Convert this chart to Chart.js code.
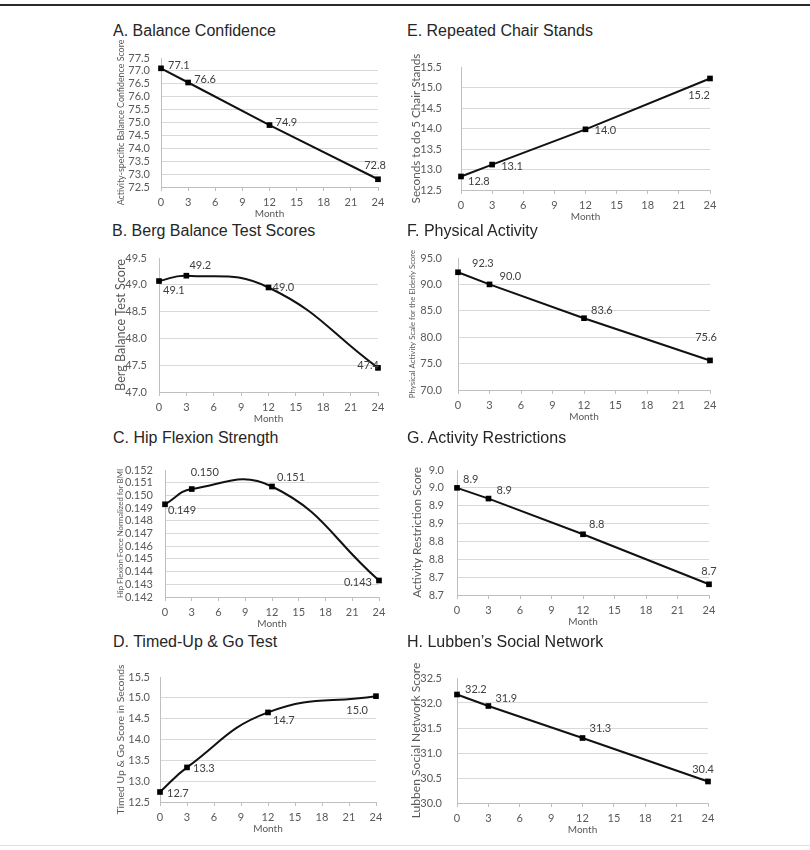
<!DOCTYPE html>
<html>
<head>
<meta charset="utf-8">
<script src="https://cdn.jsdelivr.net/npm/chart.js@4.4.1/dist/chart.umd.min.js"></script>
<style>
  body { margin: 0; background: #fff; width: 810px; height: 850px; position: relative; overflow: hidden; }
  .rule-top { position: absolute; left: 0; top: 4px; width: 810px; height: 2px; background: #2a2a2a; }
  .rule-bottom { position: absolute; left: 0; top: 845px; width: 810px; height: 1px; background: #e2e2e2; }
  .panel { position: absolute; }
  .panel canvas { display: block; }
  .ptitle { position: absolute; font-family: "Liberation Sans", Arial, sans-serif; font-size: 16px; line-height: 18px; color: #262626; white-space: nowrap; }
</style>
</head>
<body>
<div class="rule-top"></div>
<div class="rule-bottom"></div>

<script>
// months of follow-up (x axis)
const months = [0, 3, 12, 24];

// A. Balance Confidence
const balanceConfidence = [77.1, 76.55, 74.9, 72.8];
const balanceConfidenceText = ['77.1', '76.6', '74.9', '72.8'];
// B. Berg Balance
const bergScores = [49.07, 49.17, 48.95, 47.45];
const bergScoresText = ['49.1', '49.2', '49.0', '47.4'];
// C. Hip Flexion
const hipFlexion = [0.1493, 0.1505, 0.1507, 0.1433];
const hipFlexionText = ['0.149', '0.150', '0.151', '0.143'];
// D. Timed-Up & Go
const tugScores = [12.74, 13.33, 14.65, 15.04];
const tugScoresText = ['12.7', '13.3', '14.7', '15.0'];
// E. Chair Stands
const chairStands = [12.83, 13.12, 13.98, 15.22];
const chairStandsText = ['12.8', '13.1', '14.0', '15.2'];
// F. Physical Activity
const paseScores = [92.3, 90.0, 83.6, 75.6];
const paseScoresText = ['92.3', '90.0', '83.6', '75.6'];
// G. Activity Restrictions
const restrictions = [8.95, 8.92, 8.82, 8.68];
const restrictionsText = ['8.9', '8.9', '8.8', '8.7'];
const restrictionTicks = ['8.7', '8.7', '8.8', '8.8', '8.9', '8.9', '9.0', '9.0'];
// H. Lubben
const lubbenScores = [32.17, 31.94, 31.3, 30.43];
const lubbenScoresText = ['32.2', '31.9', '31.3', '30.4'];

const TICK_FONT = { family: 'Lato', size: 11 };
const GREY = '#595959';

const pointLabels = {
  id: 'pointLabels',
  afterDatasetsDraw(chart, args, opts) {
    const pts = chart.getDatasetMeta(0).data;
    const ctx = chart.ctx;
    ctx.save();
    ctx.font = '11px Lato';
    ctx.fillStyle = '#404040';
    ctx.textBaseline = 'middle';
    pts.forEach((p, i) => {
      const [dx, dy, align] = opts.offsets[i];
      ctx.textAlign = align;
      ctx.fillText(opts.texts[i], p.x + dx, p.y + dy);
    });
    ctx.restore();
  }
};

const panels = [
  { title: 'A. Balance Confidence', tx: 113, ty: 30.5,
    yTitle: 'Activity-specific Balance Confidence Score', ySize: 8.9, yPad: 10.4,
    values: balanceConfidence, texts: balanceConfidenceText, min: 72.5, max: 77.5, step: 0.5, dec: 1,
    left: 105, width: 290, plotLeft: 161, plotRight: 378, plotTop: 58, plotBottom: 187, tickPad: 11,
    offsets: [[7, -3, 'left'], [6, -3, 'left'], [6, -3, 'left'], [-3, -14, 'center']] },
  { title: 'B. Berg Balance Test Scores', tx: 112, ty: 231,
    yTitle: 'Berg Balance Test Score', ySize: 12.6, yPad: 8.1, curved: true,
    values: bergScores, texts: bergScoresText, min: 47, max: 49.5, step: 0.5, dec: 1,
    left: 105, width: 290, plotLeft: 159, plotRight: 378, plotTop: 258, plotBottom: 392, tickPad: 12,
    offsets: [[4, 9, 'left'], [3, -10, 'left'], [4, 0, 'left'], [1, -2, 'right']] },
  { title: 'C. Hip Flexion Strength', tx: 113, ty: 438,
    yTitle: 'Hip Flexion Force Normalized for BMI', ySize: 7.8, yPad: 11, curved: true,
    values: hipFlexion, texts: hipFlexionText, min: 0.142, max: 0.152, step: 0.001, dec: 3,
    left: 105, width: 290, plotLeft: 165, plotRight: 379, plotTop: 470, plotBottom: 597, tickPad: 12,
    offsets: [[3, 6, 'left'], [-1, -17, 'left'], [5, -9, 'left'], [-7, 2, 'right']] },
  { title: 'D. Timed-Up & Go Test', tx: 113, ty: 642,
    yTitle: 'Timed Up & Go Score in Seconds', ySize: 10.4, yPad: 9.5, curved: true,
    values: tugScores, texts: tugScoresText, min: 12.5, max: 15.5, step: 0.5, dec: 1,
    left: 105, width: 290, plotLeft: 160, plotRight: 376, plotTop: 677, plotBottom: 802, tickPad: 10,
    offsets: [[7, 1, 'left'], [6, 1, 'left'], [5, 8, 'left'], [-8, 14, 'right']] },
  { title: 'E. Repeated Chair Stands', tx: 407, ty: 30.5,
    yTitle: 'Seconds to do 5 Chair Stands', ySize: 11.7, yPad: 9.7,
    values: chairStands, texts: chairStandsText, min: 12.5, max: 15.5, step: 0.5, dec: 1,
    left: 400, width: 325, plotLeft: 461, plotRight: 710, plotTop: 67, plotBottom: 190, tickPad: 19,
    offsets: [[7, 5, 'left'], [9, 2, 'left'], [9, 1, 'left'], [-11, 17, 'center']] },
  { title: 'F. Physical Activity', tx: 407, ty: 231,
    yTitle: 'Physical Activity Scale for the Elderly Score', ySize: 7.85, yPad: 7.8,
    values: paseScores, texts: paseScoresText, min: 70, max: 95, step: 5, dec: 1,
    left: 400, width: 325, plotLeft: 458, plotRight: 710, plotTop: 258, plotBottom: 390, tickPad: 16,
    offsets: [[14, -9, 'left'], [10, -8, 'left'], [7, -8, 'left'], [-4, -23, 'center']] },
  { title: 'G. Activity Restrictions', tx: 407, ty: 438,
    yTitle: 'Activity Restriction Score', ySize: 11.8, yPad: 9.9,
    values: restrictions, texts: restrictionsText, min: 8.65, max: 9.0, step: 0.05, tickText: restrictionTicks,
    left: 400, width: 325, plotLeft: 457, plotRight: 709, plotTop: 470, plotBottom: 595, tickPad: 13,
    offsets: [[6, -8, 'left'], [8, -8, 'left'], [6, -10, 'left'], [0, -13, 'center']] },
  { title: 'H. Lubben\u2019s Social Network', tx: 407, ty: 642,
    yTitle: 'Lubben Social Network Score', ySize: 12.1, yPad: 8.4,
    values: lubbenScores, texts: lubbenScoresText, min: 30, max: 32.5, step: 0.5, dec: 1,
    left: 400, width: 325, plotLeft: 457, plotRight: 708, plotTop: 678, plotBottom: 803, tickPad: 15,
    offsets: [[8, -5, 'left'], [7, -8, 'left'], [7, -10, 'left'], [-5, -12, 'center']] }
];

const X_AXIS_H = 34;
const TOP_PAD = 22;

panels.forEach((p) => {
  const t = document.createElement('div');
  t.className = 'ptitle';
  t.style.left = p.tx + 'px';
  t.style.top = (p.ty - 9) + 'px';
  t.textContent = p.title;
  document.body.appendChild(t);

  const top = p.plotTop - TOP_PAD;
  const height = p.plotBottom - top + X_AXIS_H;
  const div = document.createElement('div');
  div.className = 'panel';
  div.style.left = p.left + 'px';
  div.style.top = top + 'px';
  const cv = document.createElement('canvas');
  cv.width = p.width;
  cv.height = height;
  div.appendChild(cv);
  document.body.appendChild(div);

  new Chart(cv, {
    type: 'line',
    data: {
      datasets: [{
        data: months.map((m, i) => ({ x: m, y: p.values[i] })),
        borderColor: '#111',
        borderWidth: 2,
        tension: p.curved ? 0.45 : 0,
        pointStyle: 'rect',
        pointRadius: 4,
        pointBackgroundColor: '#000',
        pointBorderWidth: 0,
        clip: false
      }]
    },
    options: {
      responsive: false,
      animation: false,
      layout: { padding: { top: TOP_PAD, left: 0, right: p.left + p.width - p.plotRight, bottom: 0 } },
      plugins: {
        legend: { display: false },
        tooltip: { enabled: false },
        pointLabels: { offsets: p.offsets, texts: p.texts }
      },
      scales: {
        x: {
          type: 'linear', min: 0, max: 24,
          ticks: { stepSize: 3, autoSkip: false, font: TICK_FONT, color: GREY, padding: 5, maxRotation: 0 },
          grid: { drawOnChartArea: false, drawTicks: true, tickLength: 4, color: '#bfbfbf' },
          border: { color: '#bfbfbf' },
          title: { display: true, text: 'Month', font: { family: 'Lato', size: 10 }, color: GREY, padding: { top: 0, bottom: 1.5 } },
          afterFit: (s) => { s.height = X_AXIS_H; s.paddingLeft = 0; s.paddingRight = 0; }
        },
        y: {
          min: p.min, max: p.max,
          ticks: {
            stepSize: p.step, autoSkip: false, font: TICK_FONT, color: GREY, padding: p.tickPad,
            callback: (v, i) => p.tickText ? p.tickText[i] : Number(v).toFixed(p.dec)
          },
          grid: {
            drawTicks: false,
            color: (c) => c.index === c.scale.ticks.length - 1 ? 'rgba(0,0,0,0)' : '#d9d9d9'
          },
          border: { color: '#bfbfbf' },
          title: { display: true, text: p.yTitle, font: { family: 'Lato', size: p.ySize }, color: GREY, padding: { top: p.yPad, bottom: 0 } },
          afterFit: (s) => { s.width = p.plotLeft - p.left; s.paddingTop = 0; s.paddingBottom = 0; }
        }
      }
    },
    plugins: [pointLabels]
  });
});
</script>
</body>
</html>
